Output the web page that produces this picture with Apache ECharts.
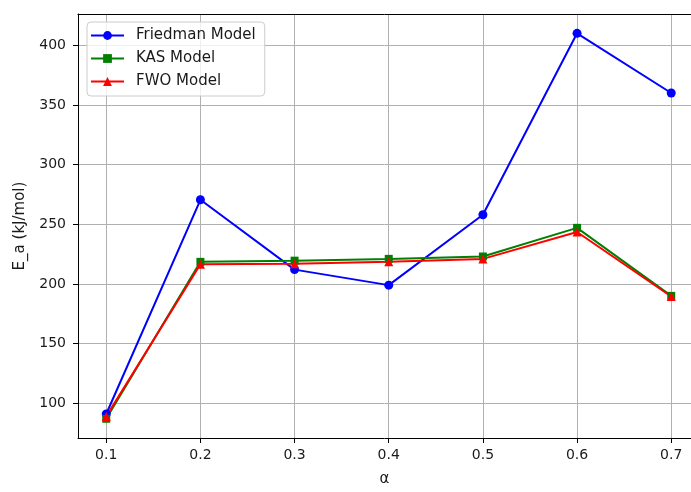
<!DOCTYPE html>
<html>
<head>
<meta charset="utf-8">
<script src="https://cdn.jsdelivr.net/npm/echarts@6/dist/echarts.min.js"></script>
<style>
  html, body { margin: 0; padding: 0; background: #fff; }
  #chart { width: 691px; height: 492px; }
</style>
</head>
<body>
<div id="chart"></div>
<script>
    // values
    var alphas = [0.1, 0.2, 0.3, 0.4, 0.5, 0.6, 0.7];
    var friedman = [91, 270.5, 212, 199, 258, 410, 360];
    var kas = [87, 218.5, 219.5, 221, 223, 247, 190];
    var fwo = [89, 216.5, 217, 218.5, 221, 243.5, 189.5];
    var xTicks = [0.1, 0.2, 0.3, 0.4, 0.5, 0.6, 0.7];
    var yTicks = [100, 150, 200, 250, 300, 350, 400];

    var font = 'DejaVu Sans';
    var textColor = '#1a1a1a';
    // the reference is cut off on the right, so the x range ends before the spine
    var xMin = 0.07, xMax = 0.721;

    function pairs(ys) {
        var out = [];
        for (var i = 0; i < alphas.length; i++) {
            out.push([alphas[i], ys[i]]);
        }
        return out;
    }

    function lineSeries(name, ys, color, symbol, size) {
        return {
            name: name,
            type: 'line',
            data: pairs(ys),
            symbol: symbol,
            symbolSize: size,
            showSymbol: true,
            itemStyle: { color: color },
            lineStyle: { color: color, width: 2 },
            emphasis: { disabled: true },
            animation: false
        };
    }

    var myChart = echarts.init(document.getElementById('chart'));
    var option = {
        animation: false,
        grid: { left: 78, right: 0, top: 14, bottom: 45 },
        legend: {
            orient: 'vertical',
            left: 87, top: 22,
            padding: [6, 9, 7, 3],
            itemGap: 8,
            itemWidth: 33,
            itemHeight: 11,
            backgroundColor: 'rgba(255,255,255,0.8)',
            borderColor: '#cccccc',
            borderWidth: 1,
            borderRadius: 4,
            textStyle: { fontFamily: font, fontSize: 15, lineHeight: 15, color: textColor, padding: [0, 0, 0, 7] },
            data: ['Friedman Model', 'KAS Model', 'FWO Model']
        },
        xAxis: [{
            type: 'value',
            min: xMin, max: xMax,
            name: 'α', nameLocation: 'middle', nameGap: 34,
            nameTextStyle: { fontFamily: font, fontSize: 15, color: textColor },
            axisLine: { lineStyle: { color: '#000' } },
            axisTick: { show: true, length: 5, customValues: xTicks, lineStyle: { color: '#000' } },
            axisLabel: {
                customValues: xTicks, fontFamily: font, fontSize: 14, color: textColor, margin: 10,
                formatter: function (v) { return v.toFixed(1); }
            },
            splitLine: { show: true, lineStyle: { color: '#b0b0b0', width: 1 } }
        }, {
            // top spine only
            type: 'value', position: 'top',
            min: xMin, max: xMax,
            axisLine: { show: true, lineStyle: { color: '#000' } },
            axisTick: { show: false },
            axisLabel: { show: false },
            splitLine: { show: false }
        }],
        yAxis: {
            type: 'value',
            min: 70.9, max: 426.2,
            name: 'E_a (kJ/mol)', nameLocation: 'middle', nameGap: 50,
            nameTextStyle: { fontFamily: font, fontSize: 15, color: textColor },
            axisLine: { show: true, lineStyle: { color: '#000' } },
            axisTick: { show: true, length: 5, customValues: yTicks, lineStyle: { color: '#000' } },
            axisLabel: { customValues: yTicks, fontFamily: font, fontSize: 14, color: textColor, margin: 12 },
            splitLine: { show: true, lineStyle: { color: '#b0b0b0', width: 1 } }
        },
        series: [
            lineSeries('Friedman Model', friedman, '#0000ff', 'circle', 9),
            lineSeries('KAS Model', kas, '#008000', 'rect', 8),
            lineSeries('FWO Model', fwo, '#ff0000', 'triangle', 9)
        ]
    };
    myChart.setOption(option);
</script>
</body>
</html>
